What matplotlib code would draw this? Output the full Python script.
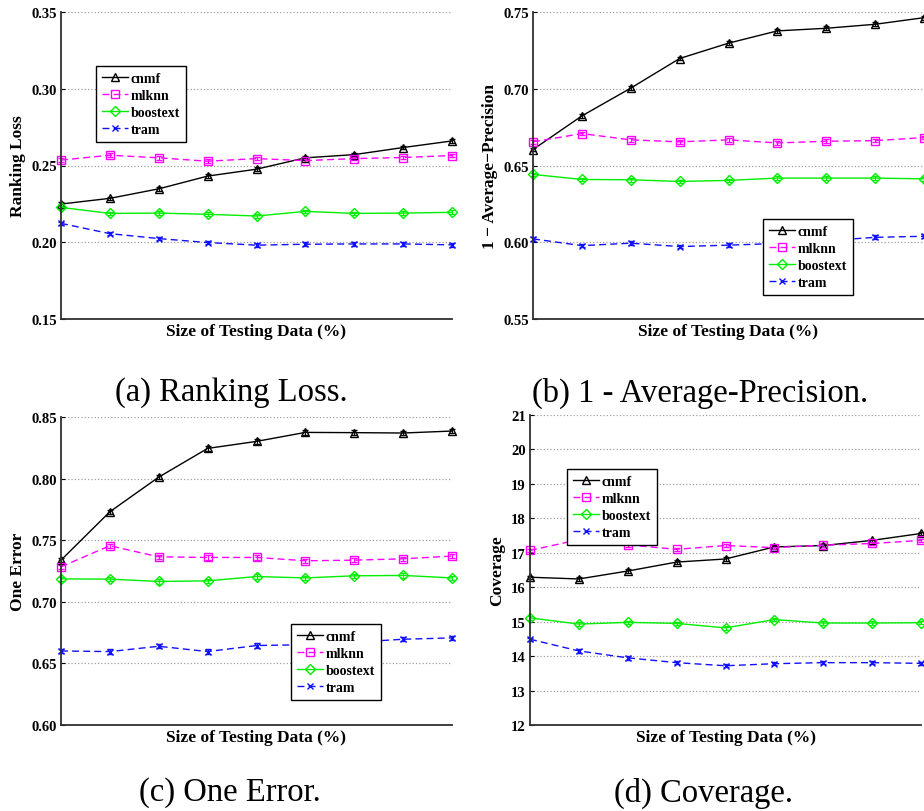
import numpy as np
import matplotlib.pyplot as plt
from matplotlib.lines import Line2D

# ───── data ────────────────────────────────────────────────
x = np.arange(1, 10)
methods = ["cnmf", "mlknn", "boostext", "tram"]

rank_cnmf  = [0.2249, 0.2286, 0.2348, 0.2431, 0.2476, 0.2550, 0.2571, 0.2617, 0.2660]
rank_mlknn = [0.2535, 0.2567, 0.2550, 0.2528, 0.2545, 0.2532, 0.2545, 0.2552, 0.2565]
rank_boost = [0.2227, 0.2188, 0.2190, 0.2182, 0.2171, 0.2201, 0.2188, 0.2190, 0.2195]
rank_tram  = [0.2123, 0.2056, 0.2024, 0.1998, 0.1981, 0.1987, 0.1989, 0.1989, 0.1983]

ap_cnmf  = [0.6604, 0.6823, 0.7004, 0.7197, 0.7297, 0.7377, 0.7394, 0.7420, 0.7463]
ap_mlknn = [0.6654, 0.6708, 0.6667, 0.6654, 0.6667, 0.6647, 0.6658, 0.6662, 0.6682]
ap_boost = [0.6442, 0.6409, 0.6407, 0.6396, 0.6403, 0.6418, 0.6418, 0.6418, 0.6413]
ap_tram  = [0.6022, 0.5978, 0.5994, 0.5972, 0.5981, 0.5992, 0.6010, 0.6032, 0.6039]

oe_cnmf  = [0.7338, 0.7731, 0.8012, 0.8245, 0.8302, 0.8375, 0.8373, 0.8370, 0.8386]
oe_mlknn = [0.7284, 0.7455, 0.7365, 0.7360, 0.7360, 0.7333, 0.7338, 0.7349, 0.7371]
oe_boost = [0.7186, 0.7184, 0.7165, 0.7170, 0.7205, 0.7194, 0.7211, 0.7214, 0.7194]
oe_tram  = [0.6601, 0.6596, 0.6639, 0.6596, 0.6645, 0.6652, 0.6672, 0.6696, 0.6707]

cov_cnmf  = [16.29, 16.24, 16.47, 16.73, 16.82, 17.17, 17.21, 17.36, 17.56]
cov_mlknn = [17.07, 17.38, 17.23, 17.10, 17.21, 17.15, 17.22, 17.27, 17.36]
cov_boost = [15.11, 14.93, 14.98, 14.95, 14.82, 15.06, 14.96, 14.96, 14.97]
cov_tram  = [14.49, 14.15, 13.95, 13.81, 13.72, 13.78, 13.81, 13.81, 13.79]

# ───── styles ──────────────────────────────────────────────
styles = [dict(color="black",   ls="-",  marker="^", ms=6),
          dict(color="#ff00ff", ls="--", marker="s", ms=5.5),
          dict(color="#00ee00", ls="-",  marker="D", ms=5),
          dict(color="#1010ff", ls="--", marker="x", ms=5)]

plt.rcParams['font.family'] = ['Liberation Serif', 'DejaVu Serif']
plt.rcParams['font.weight'] = 'bold'

fig = plt.figure(figsize=(9.24, 8.12), dpi=100)
W, H = 924.0, 812.0

def panel(box, series, err, ylim, yticks, fmt, ylabel, legpos, caption, cap_xy):
    l, t, r, b = box
    ax = fig.add_axes([l/W, 1-b/H, (r-l)/W, (b-t)/H])
    handles = []
    for s, st, name in zip(series, styles, methods):
        dash = (5, 3) if st["ls"] == "--" else (None, None)
        ax.errorbar(x, s, yerr=err, color=st["color"], ls=st["ls"],
                    marker=st["marker"], mfc="none", mec=st["color"],
                    ms=st["ms"], mew=1.0, lw=1.0, capsize=2.5,
                    elinewidth=0.8, dashes=dash, clip_on=False)
        handles.append(Line2D([], [], color=st["color"], ls=st["ls"], lw=1.0,
                              marker=st["marker"], mfc="none", mec=st["color"],
                              ms=st["ms"], mew=1.0, dashes=dash))
    ax.set_xlim(1, 9)
    ax.set_ylim(*ylim)
    ax.set_yticks(yticks)
    ax.set_yticklabels([fmt.format(v) for v in yticks], fontsize=10.5, fontweight='bold')
    ax.set_xticks([])
    ax.yaxis.grid(True, ls=':', color='#a0a0a0', lw=0.9)
    ax.set_axisbelow(True)
    for sp in ("top", "right"):
        ax.spines[sp].set_visible(False)
    for sp in ("left", "bottom"):
        ax.spines[sp].set_linewidth(1.3)
        ax.spines[sp].set_color('#303030')
    ax.tick_params(axis='y', direction='in', length=3, pad=3)
    ax.set_xlabel("Size of Testing Data (%)", fontsize=12.5, fontweight='bold', labelpad=3)
    ax.set_ylabel(ylabel, fontsize=12.5, fontweight='bold', labelpad=4)
    anchor = ((legpos[0]-l)/(r-l), 1-(legpos[1]-t)/(b-t))
    leg = ax.legend(handles, methods, loc='upper left', bbox_to_anchor=anchor,
                    fancybox=False, edgecolor='black', framealpha=1,
                    prop=dict(size=10, weight='bold'), numpoints=1,
                    handlelength=1.9, handletextpad=0.2, labelspacing=0.3,
                    borderpad=0.4, borderaxespad=0)
    leg.get_frame().set_linewidth(1.0)
    fig.text(cap_xy[0]/W, 1-cap_xy[1]/H, caption, ha='center', va='center',
             fontsize=23.5, fontweight='normal')
    return ax

box_a = (61, 13, 452, 320)
box_b = (533, 13, 924, 320)
box_c = (61, 418, 452, 726)
box_d = (530, 416, 921, 726)

panel(box_a, [rank_cnmf, rank_mlknn, rank_boost, rank_tram], 0.0012,
      (0.15, 0.35), [0.15, 0.20, 0.25, 0.30, 0.35], "{:.2f}", "Ranking Loss",
      (96, 67), "(a) Ranking Loss.", (231, 393))
panel(box_b, [ap_cnmf, ap_mlknn, ap_boost, ap_tram], 0.0012,
      (0.55, 0.75), [0.55, 0.60, 0.65, 0.70, 0.75], "{:.2f}", "1 \u2212 Average\u2212Precision",
      (763, 220), "(b) 1 - Average-Precision.", (700, 393))
panel(box_c, [oe_cnmf, oe_mlknn, oe_boost, oe_tram], 0.0018,
      (0.60, 0.85), [0.60, 0.65, 0.70, 0.75, 0.80, 0.85], "{:.2f}", "One Error",
      (291, 625), "(c) One Error.", (230, 793))
panel(box_d, [cov_cnmf, cov_mlknn, cov_boost, cov_tram], 0.05,
      (12, 21), list(range(12, 22)), "{:d}", "Coverage",
      (567, 470), "(d) Coverage.", (703, 793))

fig.savefig("out.png", dpi=100)
